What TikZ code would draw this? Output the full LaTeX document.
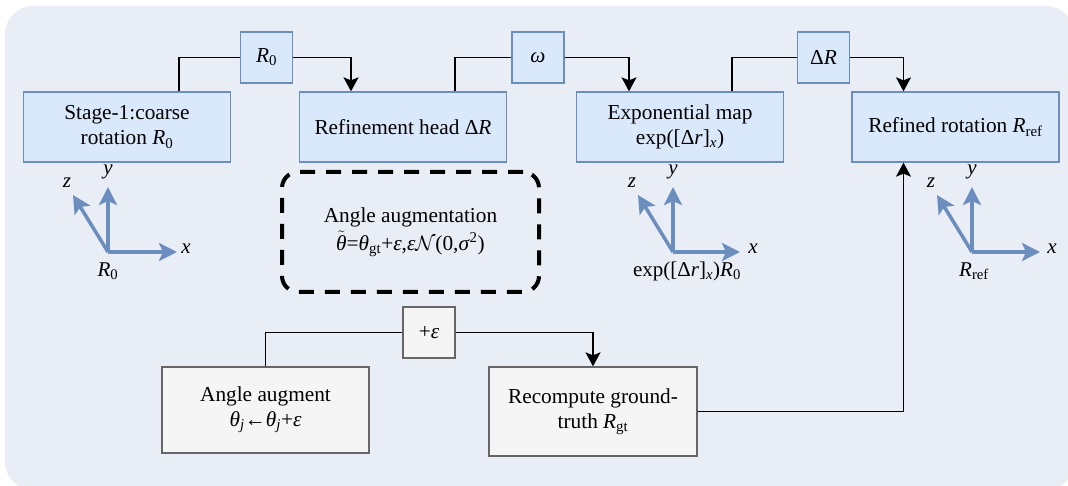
\documentclass[tikz,border=0pt]{standalone}
\usepackage{fontspec}
\setmainfont{Liberation Serif}
\usetikzlibrary{arrows.meta}
\definecolor{bg}{RGB}{233,237,246}
\definecolor{bfill}{RGB}{218,232,252}
\definecolor{bdraw}{RGB}{108,142,191}
\definecolor{gfill}{RGB}{245,245,245}
\definecolor{gdraw}{RGB}{102,102,102}
\definecolor{axc}{RGB}{108,142,191}
\newcommand{\thetatilde}{$\tilde{\mbox{\itshape θ}}$}
\tikzset{
  txt/.style={font=\fontsize{21.3}{25}\selectfont, align=center},
  bluebox/.style={txt, draw=bdraw, fill=bfill, line width=1.3pt, minimum width=207pt, minimum height=70pt, inner sep=0pt},
  lblbox/.style={txt, draw=bdraw, fill=bfill, line width=1.3pt, minimum width=52pt, minimum height=51pt, inner sep=0pt},
  graybox/.style={txt, draw=gdraw, fill=gfill, line width=1.3pt, inner sep=0pt},
  dashbox/.style={font=\fontsize{21.3}{28}\selectfont, align=center, draw=black, line width=4pt, dash pattern=on 15pt off 11pt, rounded corners=16pt, minimum width=257pt, minimum height=120pt, inner sep=0pt},
  conn/.style={line width=1.5pt, draw=black},
  arr/.style={conn, -{Stealth[length=14pt,width=15pt,inset=3pt]}},
  axisarrow/.style={draw=axc, line width=3.5pt, -{Stealth[length=18pt,width=18pt,inset=4pt]}},
  axlbl/.style={font=\fontsize{21}{24}\selectfont\itshape, inner sep=0pt},
  rlbl/.style={font=\fontsize{21}{24}\selectfont, inner sep=0pt},
}
\begin{document}
\begin{tikzpicture}[x=1pt,y=-1pt]
\useasboundingbox (0,0) rectangle (1068,486);
\fill[bg, rounded corners=28pt] (5,6) rectangle (1074,490);

% top row
\node[bluebox] (s1) at (127,127) {Stage-1:coarse\\rotation \textit{R}\textsubscript{0}};
\node[bluebox] (rh) at (403,127) {Refinement head Δ\textit{R}};
\node[bluebox] (ex) at (680,127) {Exponential map\\exp([Δ\textit{r}]\textsubscript{\textit{x}})};
\node[bluebox] (rr) at (955.5,127) {Refined rotation \textit{R}\textsubscript{ref}};
\node[lblbox] (l1) at (266.5,57.5) {\textit{R}\textsubscript{0}};
\node[lblbox] (l2) at (538,57.5) {\textit{ω}};
\node[lblbox] (l3) at (823.5,57.5) {Δ\textit{R}};

% dashed box
\node[dashbox] (aa) at (410.5,232) {Angle augmentation\\\thetatilde=\textit{θ}\textsubscript{gt}+\textit{ε},\textit{ε}$\mathcal{N}$(0,\textit{σ}\textsuperscript{2})};

% bottom row
\node[graybox, minimum width=52pt, minimum height=51pt] (pe) at (429,332.5) {+\textit{ε}};
\node[graybox, minimum width=207pt, minimum height=86pt] (ag) at (265.5,410) {Angle augment\\\textit{θ}\textsubscript{\textit{j}}←\textit{θ}\textsubscript{\textit{j}}+\textit{ε}};
\node[graybox, minimum width=208pt, minimum height=89pt] (rc) at (593,411.5) {Recompute ground-\\truth \textit{R}\textsubscript{gt}};

% connectors
\draw[conn] ([xshift=52pt]s1.north) |- (l1.west);
\draw[arr] (l1.east) -| ([xshift=-52pt]rh.north);
\draw[conn] ([xshift=52pt]rh.north) |- (l2.west);
\draw[arr] (l2.east) -| ([xshift=-51pt]ex.north);
\draw[conn] ([xshift=52pt]ex.north) |- (l3.west);
\draw[arr] (l3.east) -| ([xshift=-52pt]rr.north);
\draw[conn] (ag.north) |- (pe.west);
\draw[arr] (pe.east) -| (rc.north);
\draw[arr] (rc.east) -| ([xshift=-52pt]rr.south);

% axes 1
\coordinate (o1) at (108,252);
\coordinate (x1) at (177,252);
\coordinate (y1) at (108,187);
\coordinate (z1) at (73,195);
\draw[axisarrow] (o1) -- (x1);
\draw[axisarrow] (o1) -- (y1);
\draw[axisarrow] (o1) -- (z1);
\node[axlbl] (xl1) at (186,249) {x};
\node[axlbl] (yl1) at (108,172) {y};
\node[axlbl] (zl1) at (67,183) {z};
\node[rlbl] (rl1) at (108,271) {\textit{R}\textsubscript{0}};

% axes 2
\coordinate (o2) at (673,252);
\coordinate (x2) at (740,252);
\coordinate (y2) at (673,187);
\coordinate (z2) at (638,195);
\draw[axisarrow] (o2) -- (x2);
\draw[axisarrow] (o2) -- (y2);
\draw[axisarrow] (o2) -- (z2);
\node[axlbl] (xl2) at (753,249) {x};
\node[axlbl] (yl2) at (673,172) {y};
\node[axlbl] (zl2) at (632,183) {z};
\node[rlbl] (rl2) at (687,271) {exp([Δ\textit{r}]\textsubscript{\textit{x}})\textit{R}\textsubscript{0}};

% axes 3
\coordinate (o3) at (972,252);
\coordinate (x3) at (1040,252);
\coordinate (y3) at (972,187);
\coordinate (z3) at (937,195);
\draw[axisarrow] (o3) -- (x3);
\draw[axisarrow] (o3) -- (y3);
\draw[axisarrow] (o3) -- (z3);
\node[axlbl] (xl3) at (1052,249) {x};
\node[axlbl] (yl3) at (972,172) {y};
\node[axlbl] (zl3) at (931,183) {z};
\node[rlbl] (rl3) at (974,271) {\textit{R}\textsubscript{ref}};
\end{tikzpicture}
\end{document}
